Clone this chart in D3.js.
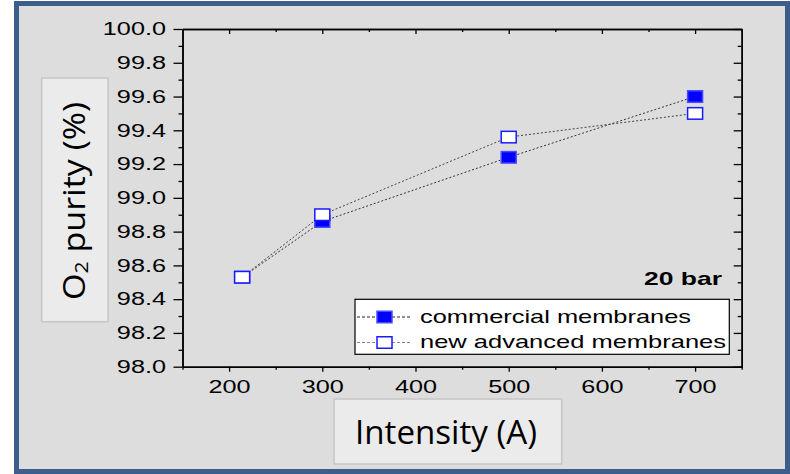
<!DOCTYPE html>
<html>
<head>
<meta charset="utf-8">
<script src="https://d3js.org/d3.v7.min.js"></script>
<style>
  body { margin: 0; background: #fff; }
  svg text { font-family: "Liberation Sans", Arial, sans-serif; }
</style>
</head>
<body>
<svg id="chart" width="790" height="474"></svg>
<script>
// Data
var intensity = [214, 300, 500, 700];
var commercial = [98.53, 98.86, 99.24, 99.60];
var advanced = [98.53, 98.90, 99.36, 99.50];
var seriesNames = ["commercial membranes", "new advanced membranes"];
var xTicks = [200, 300, 400, 500, 600, 700];
var yTicks = [98.0, 98.2, 98.4, 98.6, 98.8, 99.0, 99.2, 99.4, 99.6, 99.8, 100.0];

var svg = d3.select("#chart");

// frame
svg.append("rect")
  .attr("x", 16.5).attr("y", 3.5).attr("width", 771).attr("height", 468)
  .attr("fill", "#dddddd").attr("stroke", "#3d5e8b").attr("stroke-width", 5);

var pLeft = 182.5, pRight = 741.7, pTop = 29, pBottom = 366.7;
var x = d3.scaleLinear().domain([150, 750]).range([pLeft, pRight]);
var y = d3.scaleLinear().domain([98, 100]).range([pBottom, pTop]);

var stretch = 1.33;

// minor ticks
var xMinor = d3.range(150, 751, 100);
var yMinor = d3.range(98.1, 100, 0.2);

function styleAxis(g) {
  g.selectAll("path, line").attr("stroke", "#000").attr("stroke-width", 1.3);
  g.select(".domain").attr("stroke-width", 1.5);
}

// bottom
svg.append("g").attr("transform", "translate(0," + pBottom + ")")
  .call(d3.axisBottom(x).tickValues(xMinor).tickSize(3).tickSizeOuter(0).tickFormat(""))
  .call(styleAxis);
var gxb = svg.append("g").attr("transform", "translate(0," + pBottom + ")")
  .call(d3.axisBottom(x).tickValues(xTicks).tickSize(5).tickSizeOuter(0).tickFormat(d3.format("d")))
  .call(styleAxis);
gxb.selectAll("text")
  .attr("y", 0).attr("dy", 0)
  .attr("transform", "translate(0,26.6) scale(" + stretch + ",1)")
  .attr("font-size", 19).attr("fill", "#000")
  .style("font-family", "'Liberation Sans', Arial, sans-serif");

// top (inward)
svg.append("g").attr("transform", "translate(0," + pTop + ")")
  .call(d3.axisTop(x).tickValues(xMinor).tickSize(-3).tickSizeOuter(0).tickFormat(""))
  .call(styleAxis);
svg.append("g").attr("transform", "translate(0," + pTop + ")")
  .call(d3.axisTop(x).tickValues(xTicks).tickSize(-5).tickSizeOuter(0).tickFormat(""))
  .call(styleAxis);

// left
svg.append("g").attr("transform", "translate(" + pLeft + ",0)")
  .call(d3.axisLeft(y).tickValues(yMinor).tickSize(4).tickSizeOuter(0).tickFormat(""))
  .call(styleAxis);
var gyl = svg.append("g").attr("transform", "translate(" + pLeft + ",0)")
  .call(d3.axisLeft(y).tickValues(yTicks).tickSize(9).tickSizeOuter(0).tickFormat(d3.format(".1f")))
  .call(styleAxis);
gyl.selectAll("text")
  .attr("x", 0).attr("dy", "0.3em")
  .attr("transform", "translate(-16.5,0) scale(" + stretch + ",1)")
  .attr("font-size", 19).attr("fill", "#000")
  .style("font-family", "'Liberation Sans', Arial, sans-serif");

// right (inward)
svg.append("g").attr("transform", "translate(" + pRight + ",0)")
  .call(d3.axisRight(y).tickValues(yMinor).tickSize(-4).tickSizeOuter(0).tickFormat(""))
  .call(styleAxis);
svg.append("g").attr("transform", "translate(" + pRight + ",0)")
  .call(d3.axisRight(y).tickValues(yTicks).tickSize(-8).tickSizeOuter(0).tickFormat(""))
  .call(styleAxis);

// series
var series = [
  { name: seriesNames[0], values: commercial, fill: "#0000ff", stroke: "#4a4aff", line: "#333" },
  { name: seriesNames[1], values: advanced, fill: "#ffffff", stroke: "#1a1aff", line: "#444" }
];

var line = d3.line().x(function (d) { return x(d[0]); }).y(function (d) { return y(d[1]); });

var mw = 15, mh = 11.5;
series.forEach(function (s) {
  var pts = intensity.map(function (v, i) { return [v, s.values[i]]; });
  svg.append("path").datum(pts)
    .attr("d", line).attr("fill", "none")
    .attr("stroke", s.line).attr("stroke-width", 1).attr("stroke-dasharray", "2,2");
});
series.forEach(function (s) {
  var pts = intensity.map(function (v, i) { return [v, s.values[i]]; });
  svg.append("g").selectAll("rect").data(pts).enter().append("rect")
    .attr("x", function (d) { return x(d[0]) - mw / 2; })
    .attr("y", function (d) { return y(d[1]) - mh / 2; })
    .attr("width", mw).attr("height", mh)
    .attr("fill", s.fill).attr("stroke", s.stroke).attr("stroke-width", 1.5);
});

// annotation
svg.append("text").attr("x", 644).attr("y", 285)
  .attr("font-size", 18.6).attr("font-weight", "bold")
  .attr("textLength", 78).attr("lengthAdjust", "spacingAndGlyphs")
  .text("20 bar");

// legend
var lg = svg.append("g");
lg.append("rect").attr("x", 355).attr("y", 299.3).attr("width", 374.3).attr("height", 55)
  .attr("fill", "#fff").attr("stroke", "#000").attr("stroke-width", 1.2);
var legY = [317, 342.5];
var legLen = [271, 306];
var legColor = ["#222", "#888"];
series.forEach(function (s, i) {
  lg.append("line").attr("x1", 357).attr("x2", 412).attr("y1", legY[i]).attr("y2", legY[i])
    .attr("stroke", legColor[i]).attr("stroke-width", 1).attr("stroke-dasharray", "3,2");
  lg.append("rect").attr("x", 384.5 - mw / 2).attr("y", legY[i] - mh / 2)
    .attr("width", mw).attr("height", mh)
    .attr("fill", s.fill).attr("stroke", s.stroke).attr("stroke-width", 1.5);
  lg.append("text").attr("x", 420).attr("y", legY[i] + 5.7)
    .attr("font-size", 19).attr("textLength", legLen[i]).attr("lengthAdjust", "spacingAndGlyphs")
    .text(s.name);
});

// axis title boxes
svg.append("rect").attr("x", 41.7).attr("y", 78).attr("width", 66.3).attr("height", 243.7)
  .attr("fill", "#ebebeb").attr("stroke", "#c6c6c6").attr("stroke-width", 1.5);
var yl = svg.append("text")
  .attr("transform", "translate(85,300) rotate(-90)")
  .attr("font-size", 30.5).attr("fill", "#000")
  .style("font-family", "'Open Sans', 'Noto Sans', sans-serif")
  .attr("textLength", 198).attr("lengthAdjust", "spacingAndGlyphs");
yl.append("tspan").text("O");
yl.append("tspan").attr("font-size", 19).attr("dy", 3).text("2");
yl.append("tspan").attr("dy", -3).text(" purity (%)");

svg.append("rect").attr("x", 334).attr("y", 399).attr("width", 227.7).attr("height", 65)
  .attr("fill", "#ebebeb").attr("stroke", "#c6c6c6").attr("stroke-width", 1.5);
svg.append("text").attr("x", 355).attr("y", 444)
  .attr("font-size", 33).attr("fill", "#000")
  .style("font-family", "'Open Sans', 'Noto Sans', sans-serif")
  .attr("textLength", 182).attr("lengthAdjust", "spacingAndGlyphs")
  .text("Intensity (A)");
</script>
</body>
</html>
